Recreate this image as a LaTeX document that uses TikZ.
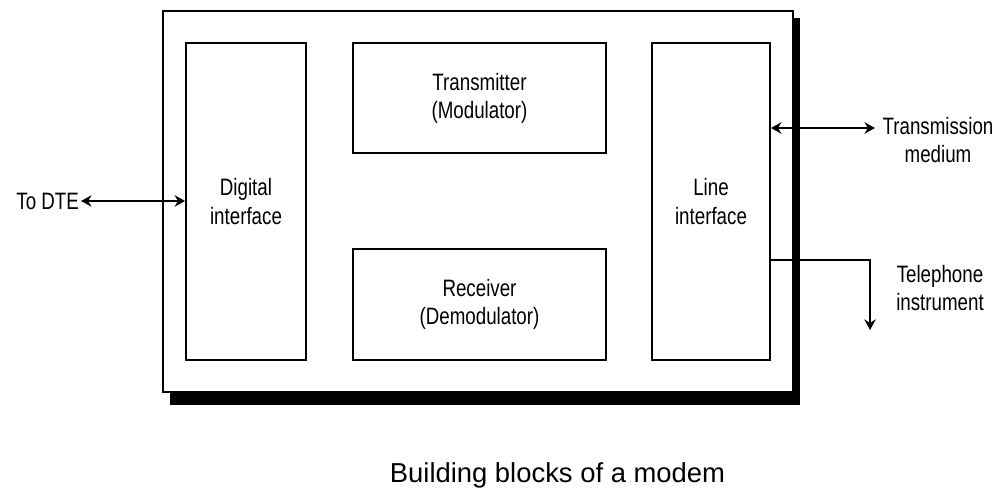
\documentclass[tikz,border=0pt]{standalone}
\usepackage{fontspec}
\setmainfont{Liberation Sans}
\newfontfamily\narrowsans[FakeStretch=0.79]{Liberation Sans}
\usepackage{tikz}
\usetikzlibrary{arrows.meta}

\begin{document}
\begin{tikzpicture}[
    block/.style={draw, line width=1pt, fill=white, font=\narrowsans\fontsize{13.5pt}{16pt}\selectfont, align=center, inner sep=0pt},
    plabel/.style={draw=none, font=\narrowsans\fontsize{13.5pt}{16pt}\selectfont, align=center, inner sep=1pt},
    darrow/.style={{Stealth[length=6pt,width=6.5pt]}-{Stealth[length=6pt,width=6.5pt]}, line width=1pt},
    sarrow/.style={-{Stealth[length=6pt,width=6.5pt]}, line width=1pt}
]
\useasboundingbox (0,0) rectangle (19.92,-9.76);
% --- Modem housing with its shadow ---
\fill[black] (3.40,-0.36) rectangle (16.00,-8.10);
\draw[line width=1pt, fill=white] (3.26,-0.22) rectangle (15.86,-7.84);
% --- Inner blocks ---
\node[block, minimum width=2.40cm, minimum height=6.34cm] (digital) at (4.92,-4.03) {Digital\\interface};
\node[block, minimum width=5.06cm, minimum height=2.20cm] (tx) at (9.59,-1.96) {Transmitter\\(Modulator)};
\node[block, minimum width=5.06cm, minimum height=2.22cm] (rx) at (9.59,-6.09) {Receiver\\(Demodulator)};
\node[block, minimum width=2.36cm, minimum height=6.34cm] (line) at (14.22,-4.03) {Line\\interface};
% --- Outside labels ---
\node[plabel, anchor=east] (dte) at (1.62,-4.02) {To DTE};
\node[plabel] (medium) at (18.76,-2.80) {Transmission\\medium};
\node[plabel] (phone) at (18.80,-5.76) {Telephone\\instrument};
\node[plabel, font=\fontsize{15.6pt}{18pt}\selectfont, anchor=base] (caption) at (11.15,-9.64) {Building blocks of a modem};
% --- Connections ---
\coordinate (mediumend) at (17.50,-2.56);
\coordinate (phoneknee) at (17.40,-5.20);
\coordinate (phoneend) at (17.40,-6.60);
\draw[darrow] (dte.east) -- (dte.east -| digital.west);
\draw[darrow] (mediumend -| line.east) -- (mediumend);
\draw[sarrow] (phoneknee -| line.east) -- (phoneknee) -- (phoneend);
\end{tikzpicture}
\end{document}
